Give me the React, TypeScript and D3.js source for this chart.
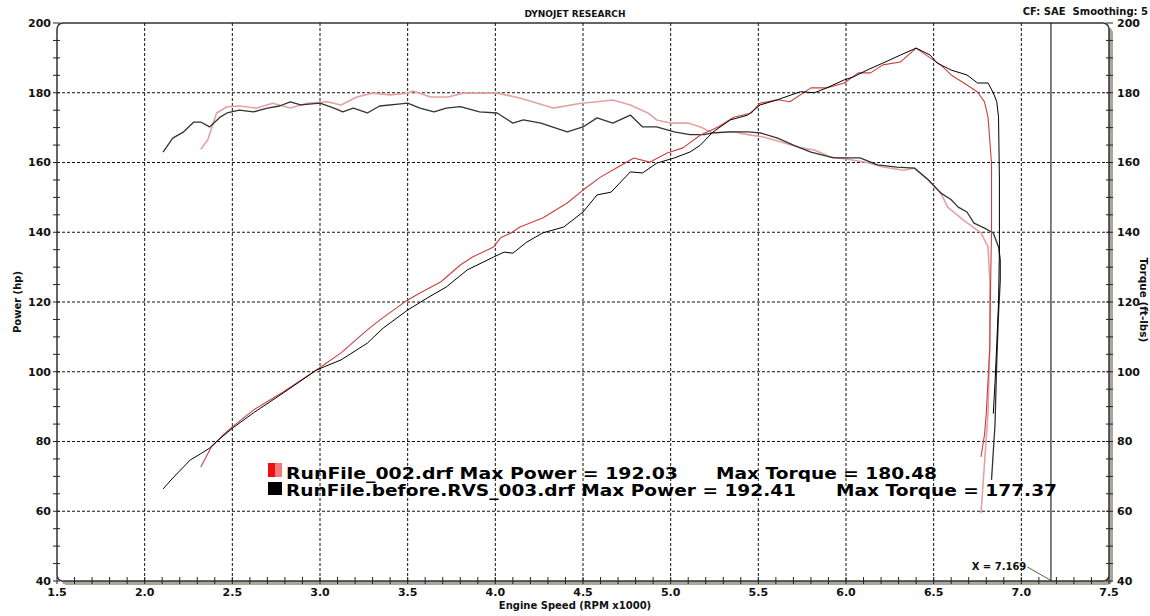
import React from 'react';
import * as d3 from 'd3';

// run 1: RunFile_002 (red), run 2: RunFile.before.RVS_003 (black)
const redPowerRpm = [2.32, 2.38, 2.44, 2.5, 2.62, 2.79, 2.98, 3.12, 3.27, 3.34, 3.5, 3.57, 3.69, 3.8, 3.87, 3.99, 4.03, 4.09, 4.14, 4.27, 4.41, 4.5, 4.6, 4.7, 4.79, 4.88, 4.98, 5.07, 5.17, 5.27, 5.36, 5.46, 5.51, 5.61, 5.68, 5.8, 5.89, 5.99, 6.07, 6.14, 6.21, 6.31, 6.4, 6.48, 6.54, 6.6, 6.69, 6.75, 6.79, 6.81, 6.83, 6.83, 6.825, 6.82, 6.8, 6.79, 6.77];
const redPowerHp = [72.7, 78.4, 81.5, 84.2, 89, 94.2, 100.5, 105.4, 112, 114.8, 120.6, 122.6, 125.8, 130.6, 132.9, 135.8, 138.4, 139.8, 141.5, 144.1, 148.4, 152.1, 155.8, 158.7, 161.3, 160.1, 162.7, 164.2, 167.9, 170.2, 173, 174.2, 177, 178, 177.4, 181.4, 181.4, 182.8, 185.7, 185.7, 188, 188.8, 192.8, 190, 188, 185.1, 182.2, 180.2, 177.4, 173, 159.8, 140, 126, 107, 88, 82, 75.6];

const redTorqueRpm = [2.32, 2.36, 2.41, 2.47, 2.54, 2.64, 2.73, 2.83, 2.93, 3.04, 3.12, 3.21, 3.3, 3.4, 3.5, 3.53, 3.63, 3.73, 3.82, 4.01, 4.14, 4.33, 4.49, 4.58, 4.67, 4.77, 4.87, 4.92, 5.0, 5.1, 5.17, 5.24, 5.36, 5.44, 5.53, 5.63, 5.74, 5.82, 5.91, 6.0, 6.12, 6.21, 6.33, 6.39, 6.47, 6.54, 6.58, 6.67, 6.77, 6.81, 6.82, 6.82, 6.81, 6.79, 6.77];
const redTorqueLb = [163.8, 166.5, 174.2, 176, 176.2, 175.6, 177, 175.6, 177, 177.4, 176.5, 178.8, 179.9, 179.4, 179.9, 180.5, 178.8, 178.8, 179.9, 179.9, 178.5, 175.6, 177, 177.4, 177.9, 176.5, 174.2, 172.2, 171.3, 171.3, 170.2, 168.5, 168.8, 168, 167.3, 165.9, 164.2, 163.6, 161.6, 161, 160, 158.7, 157.8, 158.4, 155, 151.3, 147.2, 143.5, 139.8, 135.8, 126.3, 107.1, 88.2, 73.8, 59.5];

const blackPowerRpm = [2.105, 2.16, 2.26, 2.32, 2.37, 2.41, 2.5, 2.62, 2.79, 2.98, 3.12, 3.27, 3.36, 3.5, 3.61, 3.72, 3.84, 3.99, 4.05, 4.1, 4.18, 4.27, 4.39, 4.5, 4.58, 4.66, 4.77, 4.84, 4.92, 5.02, 5.11, 5.17, 5.24, 5.34, 5.44, 5.51, 5.61, 5.74, 5.82, 5.89, 5.99, 6.04, 6.12, 6.21, 6.31, 6.4, 6.48, 6.52, 6.6, 6.69, 6.75, 6.81, 6.84, 6.86, 6.87, 6.875, 6.875, 6.87, 6.86, 6.85, 6.84];
const blackPowerHp = [66.4, 69.5, 74.7, 76.5, 78.1, 80, 83.8, 88.2, 93.9, 100.5, 103.4, 108.2, 112.5, 117.7, 121.1, 124.3, 129.2, 132.9, 134.3, 134, 137.2, 139.8, 141.5, 145.8, 150.7, 151.5, 157.3, 157, 159.8, 161.3, 163, 165, 168.7, 172.2, 173.6, 176.5, 178, 180.3, 180, 181.4, 183.7, 184.5, 186.5, 188.5, 190.8, 192.8, 190.8, 188.5, 186.5, 185.1, 182.8, 182.8, 180, 177.4, 173, 155, 135, 120, 108, 97, 88];

const blackTorqueRpm = [2.105, 2.16, 2.22, 2.28, 2.32, 2.37, 2.43, 2.47, 2.54, 2.62, 2.7, 2.77, 2.83, 2.89, 3.0, 3.08, 3.13, 3.19, 3.27, 3.34, 3.46, 3.5, 3.57, 3.65, 3.72, 3.8, 3.91, 4.01, 4.1, 4.16, 4.26, 4.41, 4.5, 4.58, 4.67, 4.77, 4.84, 4.92, 5.02, 5.11, 5.19, 5.24, 5.34, 5.44, 5.51, 5.61, 5.7, 5.8, 5.93, 6.08, 6.18, 6.29, 6.39, 6.47, 6.54, 6.6, 6.64, 6.69, 6.73, 6.79, 6.84, 6.87, 6.88, 6.88, 6.87, 6.86, 6.85, 6.83];
const blackTorqueLb = [163, 167, 168.7, 171.6, 171.6, 170.2, 173, 174.2, 175, 174.5, 175.6, 176.2, 177.4, 176.5, 177, 175.6, 174.5, 175.6, 174.2, 176.2, 176.8, 177, 175.6, 174.5, 175.6, 176, 174.5, 174.2, 171.3, 172.2, 171.3, 168.8, 170.2, 172.8, 171.3, 173.6, 170.2, 170.2, 168.8, 168, 168, 168.5, 168.8, 168.8, 168.5, 167, 165, 163, 161.3, 161.3, 159.3, 158.7, 158.4, 155, 151.3, 149.3, 147.2, 145.8, 142.6, 141.2, 139.8, 135.8, 132, 126.3, 116.8, 103, 85, 69];

const xMajorTicks = [1.5, 2.0, 2.5, 3.0, 3.5, 4.0, 4.5, 5.0, 5.5, 6.0, 6.5, 7.0, 7.5];
const yMajorTicks = [40, 60, 80, 100, 120, 140, 160, 180, 200];
const cursorRpm = 7.169;

const legendRows = [
  { name: 'RunFile_002.drf Max Power = 192.03', torque: 'Max Torque = 180.48' },
  { name: 'RunFile.before.RVS_003.drf Max Power = 192.41', torque: 'Max Torque = 177.37' },
];

const FONT = '"DejaVu Sans", Verdana, sans-serif';

export default function App() {
  const W = 1150, H = 616;
  const left = 57, right = 1109, top = 23, bottom = 581;

  const x = d3.scaleLinear().domain([1.5, 7.5]).range([left, right]);
  const y = d3.scaleLinear().domain([40, 200]).range([bottom, top]);

  const line = d3.line<[number, number]>()
    .x(d => x(d[0]))
    .y(d => y(d[1]));

  const zip = (a: number[], b: number[]) => a.map((v, i) => [v, b[i]] as [number, number]);

  const xMinor = d3.range(15, 76, 1).map(v => v / 10);
  const yMinor = d3.range(40, 201, 5);
  const xGrid = xMajorTicks.slice(1, -1);
  const yGrid = yMajorTicks.slice(1, -1);

  const series = [
    { d: zip(redTorqueRpm, redTorqueLb), color: '#e3a3a3', w: 1.6 },
    { d: zip(blackTorqueRpm, blackTorqueLb), color: '#333', w: 1.3 },
    { d: zip(redPowerRpm, redPowerHp), color: '#c94040', w: 1.1 },
    { d: zip(blackPowerRpm, blackPowerHp), color: '#000', w: 1 },
  ];

  const cx = x(cursorRpm);

  return (
    <svg width={W} height={H} style={{ position: 'absolute', left: 0, top: 0, background: '#fff' }} fontFamily={FONT}>
      {/* frame with drop shadow */}
      <rect x={left + 4} y={top + 4} width={right - left} height={bottom - top} rx={6} fill="#aaa69d" />
      <rect x={left} y={top} width={right - left} height={bottom - top} rx={6} fill="#fff" stroke="#333" strokeWidth={1.5} />

      {/* grid */}
      {xGrid.map(v => (
        <line key={'gx' + v} x1={x(v)} x2={x(v)} y1={top} y2={bottom} stroke="#111" strokeWidth={1} strokeDasharray="3,2" />
      ))}
      {yGrid.map(v => (
        <line key={'gy' + v} x1={left} x2={right} y1={y(v)} y2={y(v)} stroke="#111" strokeWidth={1} strokeDasharray="3,2" />
      ))}

      {/* ticks */}
      {xMinor.map(v => (
        <line key={'tx' + v} x1={x(v)} x2={x(v)} y1={bottom - 4} y2={bottom + 3} stroke="#222" strokeWidth={1} />
      ))}
      {yMinor.map(v => (
        <g key={'ty' + v}>
          <line x1={left - 4} x2={left + 3} y1={y(v)} y2={y(v)} stroke="#222" strokeWidth={1} />
          <line x1={right - 3} x2={right + 4} y1={y(v)} y2={y(v)} stroke="#222" strokeWidth={1} />
        </g>
      ))}

      {/* cursor */}
      <line x1={cx} x2={cx} y1={top} y2={bottom} stroke="#000" strokeWidth={1} />
      <line x1={x(7.0) + 6} x2={cx + 1} y1={567} y2={bottom} stroke="#333" strokeWidth={0.8} />
      <text x={x(7.0) + 5} y={570} fontSize={10} fontWeight="bold" textAnchor="end" fill="#111">X = 7.169</text>

      {/* curves */}
      {series.map((s, i) => (
        <path key={i} d={line(s.d) || ''} fill="none" stroke={s.color} strokeWidth={s.w} strokeLinejoin="round" />
      ))}

      {/* axis labels */}
      {yMajorTicks.map(v => (
        <g key={'ly' + v}>
          <text x={left - 6} y={y(v)} dy="0.35em" fontSize={11} fontWeight="bold" textAnchor="end" fill="#111">{v}</text>
          <text x={right + 8} y={y(v)} dy="0.35em" fontSize={11} fontWeight="bold" textAnchor="start" fill="#111">{v}</text>
        </g>
      ))}
      {xMajorTicks.map(v => (
        <text key={'lx' + v} x={x(v)} y={596} fontSize={11} fontWeight="bold" textAnchor="middle" fill="#111">{v.toFixed(1)}</text>
      ))}

      <text x={575} y={609} fontSize={10} fontWeight="bold" textAnchor="middle" fill="#111">Engine Speed (RPM x1000)</text>
      <text transform="translate(21,302) rotate(-90)" fontSize={10} fontWeight="bold" textAnchor="middle" fill="#111">Power (hp)</text>
      <text transform="translate(1140,300) rotate(90)" fontSize={10.5} fontWeight="bold" textAnchor="middle" fill="#111">Torque (ft-lbs)</text>

      <text x={575} y={17} fontSize={9} fontWeight="bold" textAnchor="middle" fill="#111">DYNOJET RESEARCH</text>
      <text x={1148} y={15} fontSize={10} fontWeight="bold" textAnchor="end" fill="#111" style={{ whiteSpace: 'pre' }}>CF: SAE  Smoothing: 5</text>

      {/* legend */}
      <rect x={268} y={463} width={7} height={14} fill="#ee1010" />
      <rect x={275} y={463} width={7} height={14} fill="#f17a7a" />
      <rect x={268} y={482} width={14} height={13} fill="#000" />
      <text x={286} y={479} fontSize={16.5} fontWeight="bold" fill="#000" textLength={392} lengthAdjust="spacingAndGlyphs">{legendRows[0].name}</text>
      <text x={716} y={479} fontSize={16.5} fontWeight="bold" fill="#000" textLength={221} lengthAdjust="spacingAndGlyphs">{legendRows[0].torque}</text>
      <text x={286} y={496} fontSize={16.5} fontWeight="bold" fill="#000" textLength={510} lengthAdjust="spacingAndGlyphs">{legendRows[1].name}</text>
      <text x={836} y={496} fontSize={16.5} fontWeight="bold" fill="#000" textLength={221} lengthAdjust="spacingAndGlyphs">{legendRows[1].torque}</text>
    </svg>
  );
}
